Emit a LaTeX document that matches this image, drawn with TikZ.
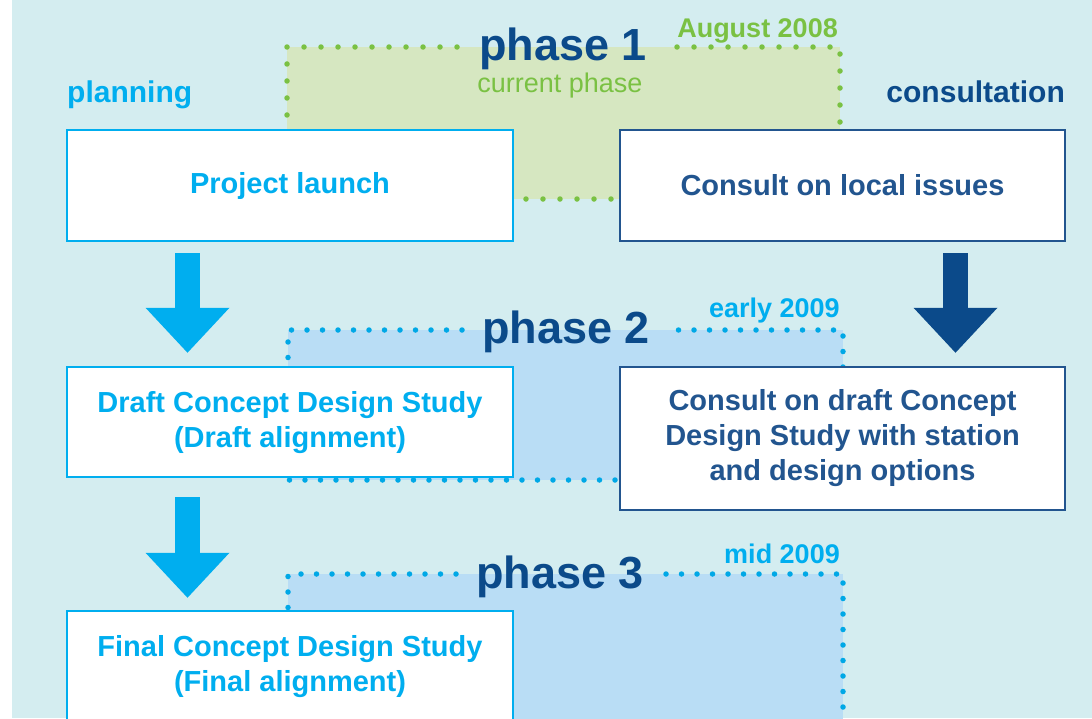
\documentclass[tikz,border=0pt]{standalone}
\usepackage{fontspec}
\setmainfont{Liberation Sans}
\usetikzlibrary{arrows.meta}
\definecolor{seabg}{HTML}{D4EDF0}
\definecolor{planblue}{HTML}{00AEEF}
\definecolor{consblue}{HTML}{22558F}
\definecolor{phaseblue}{HTML}{0B4A8A}
\definecolor{nowgreen}{HTML}{7AC143}
\definecolor{nowfill}{HTML}{D6E7C1}
\definecolor{nextfill}{HTML}{B9DDF5}
\definecolor{nextdot}{HTML}{00A8E6}

\begin{document}
\begin{tikzpicture}[x=1pt, y=1pt,
    planbox/.style={draw=planblue, line width=2.5pt, fill=white, text=planblue, align=center, inner sep=0pt, font=\fontsize{29}{35}\selectfont\bfseries},
    consbox/.style={planbox, draw=consblue, text=consblue},
    zone/.style={inner sep=0pt, outer sep=0pt, anchor=north west},
    phasetitle/.style={anchor=base, inner sep=0pt, text=phaseblue, font=\fontsize{45}{50}\selectfont\bfseries},
    datelabel/.style={anchor=base east, inner sep=0pt, font=\fontsize{27}{30}\selectfont\bfseries},
    dots/.style={line width=5.5pt, line cap=round, dash pattern=on 0pt off 17pt},
    bigarrow/.style={line width=25pt, -{Triangle[length=45pt, width=84pt, line width=0pt]}}]
    \fill [white] (0,0) rectangle (1092,-718);
    \fill [seabg] (12,0) rectangle (1092,-718);
    \useasboundingbox (0,0) rectangle (1092,-718);

    \node [zone, fill=nowfill, minimum width=553, minimum height=152] (zone1) at (287,-47) {};
    \node [zone, fill=nextfill, minimum width=555, minimum height=150] (zone2) at (288,-330) {};
    \node [zone, fill=nextfill, minimum width=555, minimum height=170] (zone3) at (288,-574) {};

    \node [phasetitle] (title1) at (563,-60) {phase 1};
    \node [phasetitle] (title2) at (566,-343) {phase 2};
    \node [phasetitle] (title3) at (560,-588) {phase 3};
    \node [anchor=base, text=nowgreen, font=\fontsize{27}{30}\selectfont] (now) at (560,-92) {current phase};
    \node [datelabel, text=nowgreen] (date1) at (838,-37) {August 2008};
    \node [datelabel, text=planblue] (date2) at (840,-317) {early 2009};
    \node [datelabel, text=planblue] (date3) at (840,-563) {mid 2009};

    \draw [dots, nowgreen] ([xshift=-22]title1.west |- zone1.north) -- (zone1.north west) -- (zone1.south west)
        -- (zone1.south east) -- (zone1.north east) -- ([xshift=22]title1.east |- zone1.north);
    \draw [dots, nextdot, dash pattern=on 0pt off 15.5pt] ([xshift=-20]title2.west |- zone2.north) -- (zone2.north west) -- (zone2.south west)
        -- (zone2.south east) -- (zone2.north east) -- ([xshift=22]title2.east |- zone2.north);
    \draw [dots, nextdot, dash pattern=on 0pt off 15.5pt] ([xshift=-20]title3.west |- zone3.north) -- (zone3.north west) -- (zone3.south west)
        -- (zone3.south east) -- (zone3.north east) -- ([xshift=22]title3.east |- zone3.north);

    \node [anchor=base west, inner sep=0pt, text=planblue, font=\fontsize{30}{34}\selectfont\bfseries] (plan) at (67,-102) {planning};
    \node [anchor=base east, inner sep=0pt, text=phaseblue, font=\fontsize{30}{34}\selectfont\bfseries] (cons) at (1065,-102) {consultation};

    \node [planbox, minimum width=446, minimum height=111] (launch) at (290,-185.5) {Project launch};
    \node [consbox, minimum width=445, minimum height=111] (local) at (842.5,-185.5) {Consult on local issues};
    \node [planbox, minimum width=446, minimum height=110, text depth=6pt] (draft) at (290,-422) {Draft Concept Design Study\\(Draft alignment)};
    \node [consbox, minimum width=445, minimum height=143] (options) at (842.5,-438.5) {Consult on draft Concept\\Design Study with station\\and design options};
    \node [planbox, minimum width=446, minimum height=111] (final) at (290,-666.5) {Final Concept Design Study\\(Final alignment)};

    \draw [bigarrow, planblue, shorten <=11pt, shorten >=13pt] ([xshift=-102.5]launch.south) -- ([xshift=-102.5]draft.north);
    \draw [bigarrow, planblue, shorten <=19pt, shorten >=12pt] ([xshift=-102.5]draft.south) -- ([xshift=-102.5]final.north);
    \draw [bigarrow, phaseblue, shorten <=11pt, shorten >=13pt] ([xshift=113]local.south) -- ([xshift=113]options.north);
\end{tikzpicture}
\end{document}
